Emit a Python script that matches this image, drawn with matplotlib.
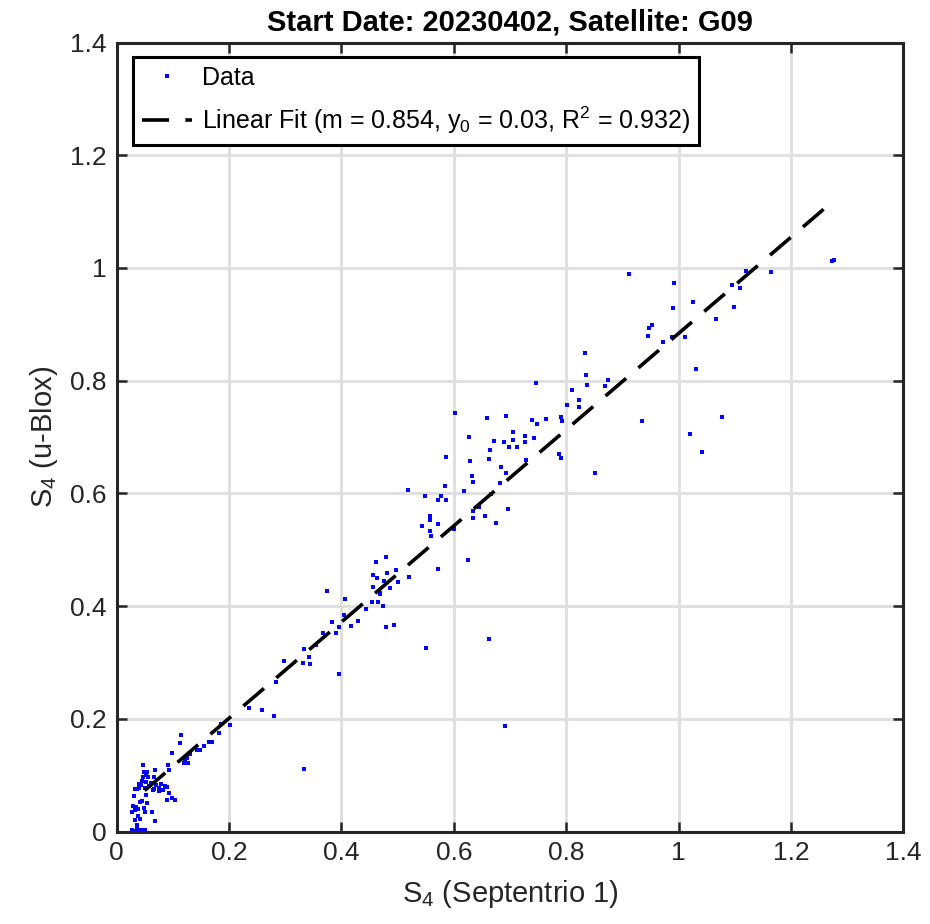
import matplotlib
matplotlib.use("Agg")
import matplotlib.pyplot as plt
import numpy as np

# S4 index pairs (Septentrio receiver 1 vs u-Blox)
s4_septentrio = [
    1.272, 1.277, 0.911, 0.991, 1.120, 1.165, 1.095, 1.109, 1.025, 0.990, 1.098,
    1.067, 0.952, 0.947, 0.946, 0.988, 1.012, 0.972, 1.030, 1.078, 1.021, 1.042,
    0.834, 0.835, 0.837, 0.875, 0.869, 0.810, 0.823, 0.822, 0.801, 0.790, 0.792,
    0.934, 0.746, 0.602, 0.659, 0.692, 0.740, 0.748, 0.764, 0.627, 0.672, 0.705,
    0.706, 0.690, 0.698, 0.713, 0.727, 0.727, 0.743, 0.665, 0.663, 0.628, 0.587,
    0.684, 0.693, 0.787, 0.790, 0.852, 0.729, 0.632, 0.634, 0.584, 0.519, 0.548,
    0.578, 0.572, 0.587, 0.619, 0.666, 0.682, 0.645, 0.635, 0.634, 0.655, 0.697,
    0.675, 0.558, 0.558, 0.544, 0.572, 0.557, 0.559, 0.600, 0.572, 0.626, 0.480,
    0.481, 0.497, 0.475, 0.487, 0.501, 0.521, 0.469, 0.474,
    0.462, 0.456, 0.463, 0.457, 0.375, 0.468, 0.406, 0.454, 0.466, 0.443, 0.404,
    0.383, 0.396, 0.391, 0.430, 0.417, 0.479, 0.494, 0.368, 0.355, 0.334, 0.342,
    0.331, 0.345, 0.298, 0.396, 0.551, 0.662, 0.691, 0.334,
    0.284, 0.235, 0.258, 0.281, 0.186, 0.202, 0.183, 0.170, 0.165, 0.156, 0.149,
    0.144, 0.115, 0.113, 0.098, 0.131, 0.126, 0.120, 0.092, 0.094, 0.047, 0.048,
    0.054, 0.052, 0.047, 0.056, 0.069, 0.066, 0.122, 0.127,
    0.062, 0.070, 0.075, 0.080, 0.086, 0.066, 0.058, 0.064, 0.089, 0.082, 0.053,
    0.045, 0.040, 0.036, 0.040, 0.033, 0.044, 0.050,
    0.031, 0.052, 0.042, 0.045, 0.054, 0.075, 0.094, 0.090, 0.099, 0.104,
    0.030, 0.035, 0.032, 0.038, 0.028, 0.048, 0.051, 0.063, 0.033, 0.042, 0.068,
    0.036, 0.038, 0.037,
    0.028, 0.032, 0.036, 0.040, 0.044, 0.048, 0.034, 0.042, 0.038, 0.050,
]
s4_ublox = [
    1.013, 1.014, 0.989, 0.974, 0.995, 0.993, 0.969, 0.965, 0.939, 0.929, 0.930,
    0.909, 0.899, 0.894, 0.880, 0.877, 0.877, 0.869, 0.821, 0.736, 0.705, 0.673,
    0.849, 0.811, 0.792, 0.802, 0.791, 0.783, 0.766, 0.754, 0.757, 0.735, 0.729,
    0.728, 0.796, 0.742, 0.734, 0.738, 0.730, 0.723, 0.732, 0.700, 0.693, 0.709,
    0.695, 0.691, 0.683, 0.683, 0.701, 0.691, 0.698, 0.677, 0.661, 0.658, 0.665,
    0.647, 0.637, 0.670, 0.662, 0.637, 0.660, 0.630, 0.620, 0.614, 0.606, 0.596,
    0.595, 0.588, 0.588, 0.605, 0.599, 0.618, 0.575, 0.569, 0.557, 0.560, 0.572,
    0.547, 0.560, 0.552, 0.542, 0.545, 0.534, 0.524, 0.537, 0.466, 0.482, 0.487,
    0.458, 0.464, 0.445, 0.432, 0.442, 0.452, 0.423, 0.401,
    0.478, 0.455, 0.449, 0.434, 0.426, 0.421, 0.413, 0.407, 0.407, 0.394, 0.385,
    0.372, 0.363, 0.352, 0.373, 0.365, 0.363, 0.366, 0.352, 0.331, 0.323, 0.310,
    0.299, 0.298, 0.303, 0.280, 0.325, 0.342, 0.188, 0.111,
    0.265, 0.219, 0.216, 0.205, 0.191, 0.189, 0.174, 0.159, 0.159, 0.152, 0.145,
    0.145, 0.172, 0.157, 0.139, 0.138, 0.130, 0.121, 0.118, 0.109, 0.118, 0.106,
    0.106, 0.100, 0.097, 0.097, 0.110, 0.097, 0.127, 0.121,
    0.086, 0.082, 0.078, 0.084, 0.080, 0.076, 0.080, 0.073, 0.079, 0.073, 0.088,
    0.090, 0.085, 0.076, 0.077, 0.076, 0.082, 0.078,
    0.063, 0.065, 0.053, 0.054, 0.050, 0.071, 0.069, 0.056, 0.059, 0.056,
    0.045, 0.043, 0.038, 0.040, 0.035, 0.041, 0.035, 0.035, 0.020, 0.023, 0.019,
    0.012, 0.028, 0.006,
    0.002, 0.001, 0.002, 0.001, 0.002, 0.001, 0.000, 0.000, 0.003, 0.002,
]

# linear fit coefficients and the x span the fit line covers
fit_slope = 0.854
fit_intercept = 0.03
fit_r2 = 0.932
fit_x_range = [0.05, 1.275]

tick_values = [0, 0.2, 0.4, 0.6, 0.8, 1, 1.2, 1.4]
tick_labels = ['0', '0.2', '0.4', '0.6', '0.8', '1', '1.2', '1.4']

plt.rcParams['font.family'] = ['Liberation Sans', 'DejaVu Sans']
plt.rcParams['mathtext.fontset'] = 'custom'
plt.rcParams['mathtext.rm'] = 'Liberation Sans'
plt.rcParams['mathtext.it'] = 'Liberation Sans'

dark = '#262626'

fig = plt.figure(figsize=(9.3, 9.24), dpi=100)
ax = fig.add_axes([0.1253, 0.1001, 0.8462, 0.8538])

x = np.array(s4_septentrio)
y = np.array(s4_ublox)

ax.plot(x, y, linestyle='none', marker='s', markersize=3.1,
        markeredgewidth=0, color='#0000ff', label='Data')

xf = np.array(fit_x_range)
ax.plot(xf, fit_slope * xf + fit_intercept, color='black', linewidth=2.6,
        linestyle=(0, (7.5, 4.5)),
        label=f'Linear Fit (m = {fit_slope:.3f}, y$_0$ = {fit_intercept:g}, '
              f'R$^2$ = {fit_r2:.3f})')

ax.set_xlim(0, 1.4)
ax.set_ylim(0, 1.4)
ax.set_xticks(tick_values)
ax.set_xticklabels(tick_labels)
ax.set_yticks(tick_values)
ax.set_yticklabels(tick_labels)

ax.grid(True, color='#e0e0e0', linewidth=2.2)
ax.set_axisbelow(True)

for sp in ax.spines.values():
    sp.set_color(dark)
    sp.set_linewidth(2.2)

ax.tick_params(direction='in', length=7, width=1.8, color=dark,
               top=True, right=True, labelsize=19, labelcolor=dark, pad=7)

ax.set_xlabel('S$_4$ (Septentrio 1)', fontsize=21, color=dark, labelpad=9)
ax.set_ylabel('S$_4$ (u-Blox)', fontsize=21, color=dark, labelpad=7)
ax.set_title('Start Date: 20230402, Satellite: G09', fontsize=21,
             fontweight='bold', pad=9)

leg = ax.legend(loc='upper left', bbox_to_anchor=(0.021, 0.982),
                borderaxespad=0, fontsize=18, fancybox=False,
                framealpha=1, edgecolor='black', handlelength=2.0,
                handletextpad=0.4, labelspacing=0.6, borderpad=0.35,
                markerscale=1.0)
leg.get_frame().set_linewidth(2.2)

fig.savefig('out.png', dpi=100)
